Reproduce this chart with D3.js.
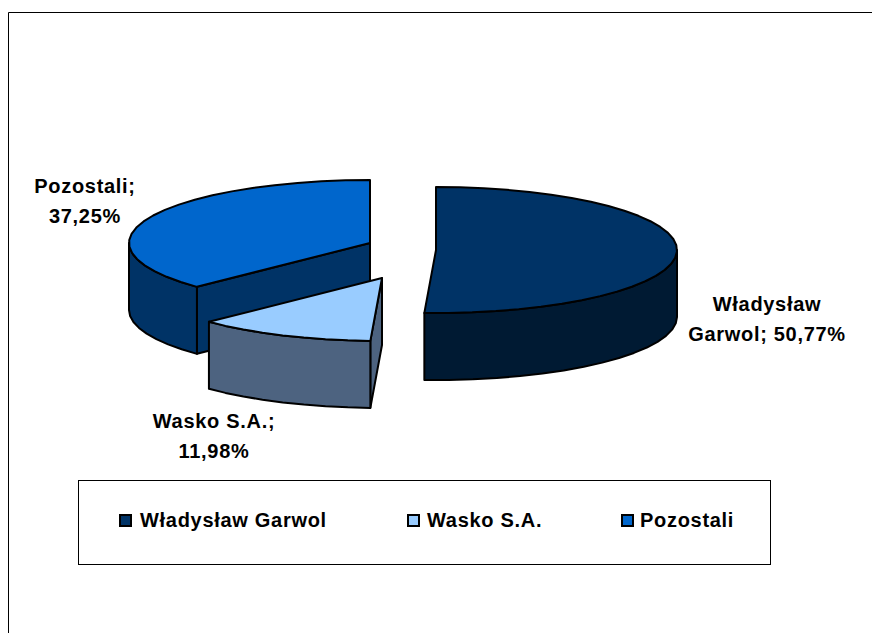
<!DOCTYPE html>
<html>
<head>
<meta charset="utf-8">
<script src="https://cdn.jsdelivr.net/npm/d3@7"></script>
<style>
  html, body { margin: 0; padding: 0; background: #fff; overflow: hidden; }
  svg { display: block; }
  text { font-family: "Liberation Sans", Arial, sans-serif; font-weight: bold; fill: #000; font-size: 20px; letter-spacing: 0.7px; }
</style>
</head>
<body>
<svg id="chart" width="872" height="633"></svg>
<script>
// Chart values
const categories = ["Władysław Garwol", "Wasko S.A.", "Pozostali"];
const shares = [50.77, 11.98, 37.25];
const topColors = ["#003366", "#99ccff", "#0066cc"];
const wallColors = ["#001a33", "#4d6380", "#003366"];
const dataLabels = [
    ["Władysław", "Garwol; 50,77%"],
    ["Wasko S.A.;", "11,98%"],
    ["Pozostali;", "37,25%"]
];

const svg = d3.select("#chart");

// Chart frame, right and bottom edges fall outside the picture
svg.append("path")
    .attr("d", "M8.5,633V12.5H872")
    .attr("fill", "none")
    .attr("stroke", "#000")
    .attr("stroke-width", 1);

// Pie geometry: an ellipse seen at an angle, each slice pulled away from the centre
const rx = 241, ry = 63, depth = 67;
const apexes = [[436, 250], [382, 278], [370, 243]];
const labelPos = [[767, 311], [214, 428], [85, 193]];

const slices = d3.pie().sort(null).value(d => d)(shares);

function rim(apex, a) {
    return [apex[0] + rx * Math.sin(a), apex[1] - ry * Math.cos(a)];
}

// Sample an elliptical arc between two angles
function arcPoints(apex, a0, a1) {
    const n = Math.max(6, Math.round(Math.abs(a1 - a0) * 10));
    return d3.range(0, n + 1).map(i => rim(apex, a0 + (a1 - a0) * i / n));
}

const line = d3.line();

function down(points) {
    return points.map(p => [p[0], p[1] + depth]);
}

function wall(points, fill) {
    const closed = points.concat(down(points).reverse());
    svg.append("path")
        .attr("d", line(closed) + "Z")
        .attr("fill", fill)
        .attr("stroke", "#000")
        .attr("stroke-width", 2)
        .attr("stroke-linejoin", "round");
}

function topFace(apex, s, fill) {
    const pts = [apex].concat(arcPoints(apex, s.startAngle, s.endAngle));
    svg.append("path")
        .attr("d", line(pts) + "Z")
        .attr("fill", fill)
        .attr("stroke", "#000")
        .attr("stroke-width", 2)
        .attr("stroke-linejoin", "round");
}

// Back to front: Pozostali, Garwol, Wasko
const p = slices[2], pApex = apexes[2];
wall([rim(pApex, p.startAngle), pApex], wallColors[2]);
wall(arcPoints(pApex, p.startAngle, 1.5 * Math.PI), wallColors[2]);
topFace(pApex, p, topColors[2]);

const g = slices[0], gApex = apexes[0];
wall(arcPoints(gApex, Math.PI / 2, g.endAngle), wallColors[0]);
topFace(gApex, g, topColors[0]);

const w = slices[1], wApex = apexes[1];
wall([wApex, rim(wApex, w.startAngle)], wallColors[1]);
wall(arcPoints(wApex, w.startAngle, w.endAngle), wallColors[1]);
topFace(wApex, w, topColors[1]);

// Data labels
dataLabels.forEach((lines, i) => {
    lines.forEach((t, j) => {
        svg.append("text")
            .attr("x", labelPos[i][0])
            .attr("y", labelPos[i][1] + j * 30)
            .attr("text-anchor", "middle")
            .text(t);
    });
});

// Legend
svg.append("rect")
    .attr("x", 78.5).attr("y", 480.5)
    .attr("width", 692).attr("height", 84)
    .attr("fill", "#fff").attr("stroke", "#000");

const legendX = d3.scaleOrdinal().domain(categories).range([120, 408, 622]);
const legendTextX = d3.scaleOrdinal().domain(categories).range([140, 427, 640]);
categories.forEach((c, i) => {
    svg.append("rect")
        .attr("x", legendX(c)).attr("y", 515)
        .attr("width", 11).attr("height", 11)
        .attr("fill", topColors[i])
        .attr("stroke", "#000").attr("stroke-width", 2);
    svg.append("text")
        .attr("x", legendTextX(c))
        .attr("y", 527)
        .text(c);
});
</script>
</body>
</html>
